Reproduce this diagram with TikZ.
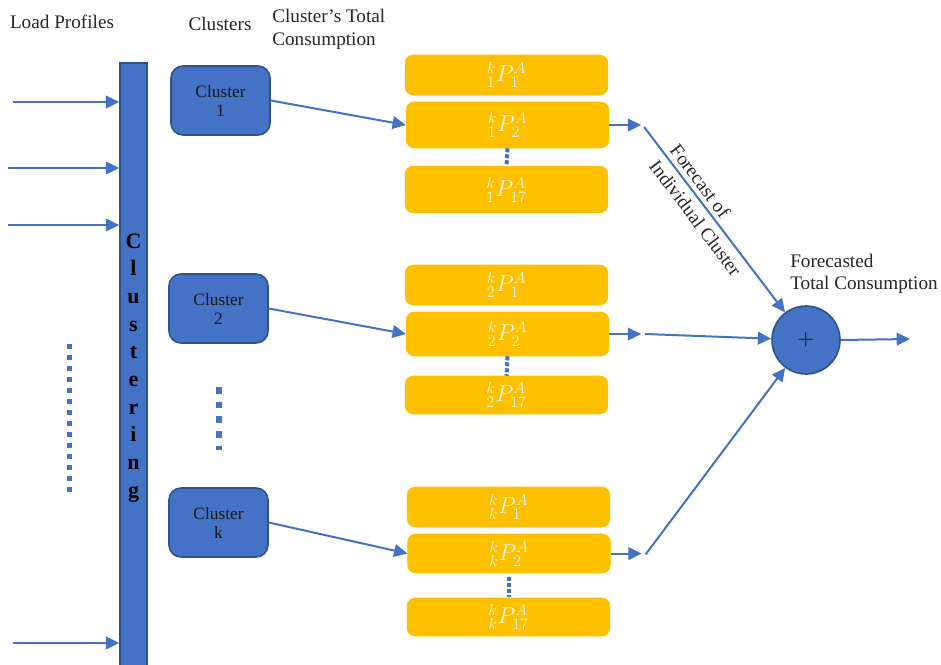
\documentclass[tikz,border=0pt]{standalone}
\usepackage{fontspec}
\setmainfont{Liberation Serif}
\usetikzlibrary{arrows.meta,calc}
\definecolor{cblue}{HTML}{4472C4}
\definecolor{cdark}{HTML}{2F528F}
\definecolor{cyel}{HTML}{FFC000}
\definecolor{ctxt}{HTML}{FFF8E6}
\begin{document}
\begin{tikzpicture}[x=0.75pt,y=-0.75pt,
  hdr/.style={font=\fontsize{14.4}{17}\selectfont, inner sep=0pt, text=black!85},
  bar/.style={fill=cblue, draw=cdark, line width=1.2pt, minimum width=20.25pt, minimum height=460pt, inner sep=0pt},
  letter/.style={font=\bfseries\fontsize{16.5}{16.5}\selectfont, anchor=base, inner sep=0pt},
  clus/.style={fill=cblue, draw=cdark, line width=1.2pt, rounded corners=9pt, minimum width=74.25pt, minimum height=51.75pt, align=center, font=\fontsize{13}{14.25}\selectfont, text=black!90, inner sep=0pt},
  yel/.style={fill=cyel, draw=cyel, rounded corners=6pt, minimum width=152pt, inner sep=0pt, text=ctxt, font=\fontsize{17}{17}\selectfont},
  arr/.style={draw=cblue, line width=1.5pt, -{Triangle[length=10pt,width=9.5pt]}},
  dotsS/.style={draw=cblue, line width=3pt, dash pattern=on 3pt off 1.5pt},
  dotsL/.style={draw=cblue, line width=3.75pt, dash pattern=on 3.75pt off 4.5pt},
  dotsM/.style={draw=cblue, line width=5pt, dash pattern=on 5pt off 6pt},
  sumst/.style={circle, fill=cblue, draw=cdark, line width=1.2pt, minimum size=51pt, inner sep=0pt, font=\fontsize{18}{18}\selectfont}
]
\useasboundingbox (0,0) rectangle (941,664);

% headers
\node[hdr] (hLoad) at (62,22) {Load Profiles};
\node[hdr] (hClus) at (220,24) {Clusters};
\node[hdr, anchor=west, align=left] (hTot) at (272,29.5) {Cluster’s Total\\Consumption};
\node[hdr, anchor=west, align=left] (hFc) at (790,274) {Forecasted\\Total Consumption};

% clustering bar
\node[bar, anchor=north] (bar) at (133.5,62) {};
\foreach \l [count=\i] in {C,l,u,s,t,e,r,i,n,g}
  \node[letter] (L\i) at (133.5,{248+27.7*(\i-1)}) {\l};

% input arrows
\coordinate (i1) at (13,102);
\coordinate (i2) at (8,168);
\coordinate (i3) at (8,225);
\coordinate (i4) at (13,643);
\foreach \c in {i1,i2,i3,i4}
  \draw[arr] (\c) -- (\c -| bar.west);
\coordinate (dl1) at (69,344);
\coordinate (dl2) at (69,498);
\draw[dotsL] (dl1) -- (dl2);

% clusters
\node[clus] (c1) at (220.5,100.5) {Cluster\\1};
\node[clus] (c2) at (218.5,308.5) {Cluster\\2};
\node[clus] (ck) at (218.5,522.5) {Cluster\\k};
\coordinate (dm1) at (219,387);
\coordinate (dm2) at (219,450);
\draw[dotsM] (dm1) -- (dm2);

% yellow boxes group 1
\node[yel, minimum height=30pt] (b11) at (506.5,75) {${}^{k}_{1}P^{A}_{1}$};
\node[yel, minimum height=34.5pt] (b12) at (507.5,125) {${}^{k}_{1}P^{A}_{2}$};
\node[yel, minimum height=35pt] (b13) at (506.5,189.5) {${}^{k}_{1}P^{A}_{17}$};
\draw[dotsS] (b12.south) -- (b13.north);
% group 2
\node[yel, minimum height=30pt] (b21) at (506.5,285) {${}^{k}_{2}P^{A}_{1}$};
\node[yel, minimum height=33pt] (b22) at (507.5,334) {${}^{k}_{2}P^{A}_{2}$};
\node[yel, minimum height=28.5pt] (b23) at (506.5,395) {${}^{k}_{2}P^{A}_{17}$};
\draw[dotsS] (b22.south) -- (b23.north);
% group k
\node[yel, minimum height=30pt] (bk1) at (508.5,507) {${}^{k}_{k}P^{A}_{1}$};
\node[yel, minimum height=29.25pt] (bk2) at (509,553.5) {${}^{k}_{k}P^{A}_{2}$};
\node[yel, minimum height=28.5pt] (bk3) at (508.5,617) {${}^{k}_{k}P^{A}_{17}$};
\coordinate (dk1) at (508.5,577);
\coordinate (dk2) at (508.5,597);
\draw[dotsS] (dk1) -- (dk2);

% cluster -> boxes
\draw[arr] (c1.east) -- (b12.west);
\draw[arr] (c2.east) -- (b22.west);
\draw[arr] (ck.east) -- (bk2.west);

% outputs
\coordinate (o1) at ($(b12.east)+(32,0)$);
\coordinate (o2) at ($(b22.east)+(32,0)$);
\coordinate (ok) at ($(bk2.east)+(31,0)$);
\draw[arr] (b12.east) -- (o1);
\draw[arr] (b22.east) -- (o2);
\draw[arr] (bk2.east) -- (ok);

% sum
\node[sumst] (sum) at (806,340) {$+$};
\coordinate (s1) at ($(o1)+(3,2)$);
\coordinate (s2) at ($(o2)+(4,0)$);
\coordinate (sk) at ($(ok)+(4,1)$);
\draw[arr] (s1) -- (sum);
\draw[arr] (s2) -- (sum);
\draw[arr] (sk) -- (sum);
\coordinate (out) at (910,339);
\draw[arr] (sum.east) -- (out);

\node[hdr, font=\fontsize{14.4}{19.5}\selectfont, rotate=-53, align=left] (lbl) at (706,210) {Forecast of\\Individual Cluster};
\end{tikzpicture}
\end{document}
